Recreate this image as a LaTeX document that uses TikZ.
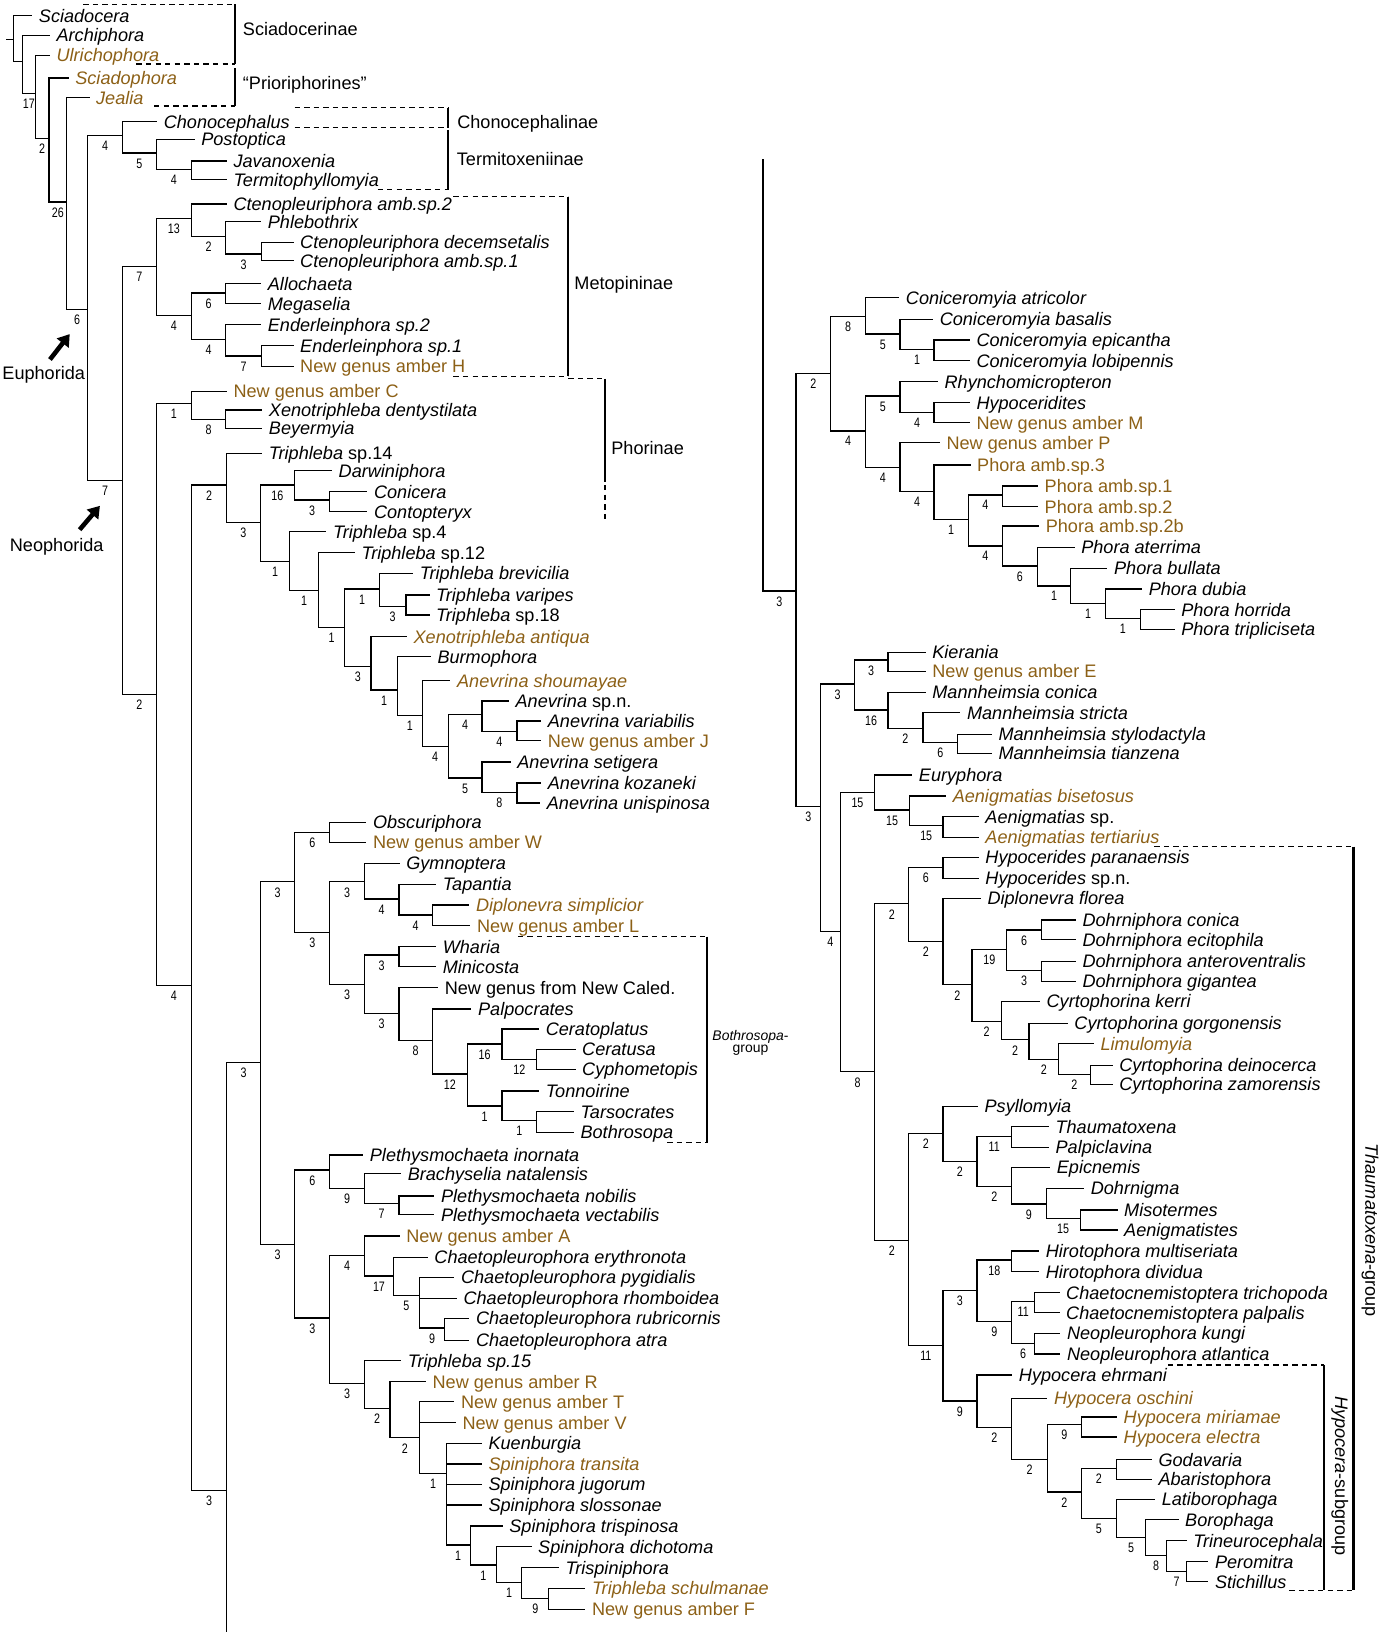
\documentclass[tikz,border=0pt]{standalone}
\usepackage{fontspec}
\setmainfont{Liberation Sans}
\newfontfamily\numfont[FakeStretch=0.78]{Liberation Sans}
\usetikzlibrary{arrows.meta}
\definecolor{amber}{RGB}{140,96,22}
\newcommand{\taxfont}{\fontsize{8.7}{10}\selectfont}

\begin{document}
\begin{tikzpicture}[x=0.5pt,y=-0.5pt]
    \tikzstyle{leaf} = [anchor=west, inner xsep=3pt, inner ysep=0pt, text height=6.2pt, text depth=0pt, font=\taxfont\itshape]
    \tikzstyle{amb} = [leaf, text=amber]
    \tikzstyle{ambup} = [leaf, text=amber, font=\taxfont]
    \tikzstyle{plain} = [leaf, font=\taxfont]
    \tikzstyle{clade} = [anchor=west, inner sep=0pt, text height=6.2pt, text depth=0pt, font=\taxfont]
    \tikzstyle{br} = [line width=0.6pt]
    \tikzstyle{bs} = [pos=0.75, anchor=north, inner sep=0pt, yshift=-2.4pt, font=\numfont\fontsize{6.6}{7}\selectfont]
    \tikzstyle{bar} = [line width=1.1pt]
    \tikzstyle{guide} = [line width=0.6pt, dash pattern=on 2.6pt off 2pt]
    \tikzstyle{pointer} = [line width=2.2pt, -{Triangle[length=5.5pt,width=7pt]}]

    \useasboundingbox (0,0) rectangle (1330,1568);

    % left tree: taxa
    \node[leaf] (sciad) at (31,15) {Sciadocera};
    \node[leaf] (archi) at (48,34) {Archiphora};
    \node[amb] (ulric) at (48,53) {Ulrichophora};
    \node[amb] (sciadoph) at (66,75) {Sciadophora};
    \node[amb] (jeal) at (86,94) {Jealia};
    \node[leaf] (chono) at (151,117) {Chonocephalus};
    \node[leaf] (posto) at (187,134) {Postoptica};
    \node[leaf] (javan) at (218,154.6) {Javanoxenia};
    \node[leaf] (termi) at (218,172.8) {Termitophyllomyia};
    \node[leaf] (cten2) at (218,196) {Ctenopleuriphora amb.sp.2};
    \node[leaf] (phleb) at (251,213) {Phlebothrix};
    \node[leaf] (ctdec) at (282,233) {Ctenopleuriphora decemsetalis};
    \node[leaf] (cten1) at (282,250.6) {Ctenopleuriphora amb.sp.1};
    \node[leaf] (alloc) at (251,272.6) {Allochaeta};
    \node[leaf] (megas) at (251,291.8) {Megaselia};
    \node[leaf] (ender2) at (251,312) {Enderleinphora sp.2};
    \node[leaf] (ender1) at (282,332) {Enderleinphora sp.1};
    \node[ambup] (ambH) at (282,352) {New genus amber H};
    \node[ambup] (ambC) at (218,376) {New genus amber C};
    \node[leaf] (xenod) at (252,394) {Xenotriphleba dentystilata};
    \node[leaf] (beyer) at (252,411.6) {Beyermyia};
    \node[leaf] (tri14) at (252,435.6) {Triphleba \textup{sp.14}};
    \node[leaf] (darwi) at (319,452.2) {Darwiniphora};
    \node[leaf] (conic) at (353,472.4) {Conicera};
    \node[leaf] (conto) at (353,491.6) {Contopteryx};
    \node[leaf] (tri4) at (313.6,510.8) {Triphleba \textup{sp.4}};
    \node[leaf] (tri12) at (341,531) {Triphleba \textup{sp.12}};
    \node[leaf] (trib) at (397,550.8) {Triphleba brevicilia};
    \node[leaf] (triv) at (412.7,571.6) {Triphleba varipes};
    \node[leaf] (tri18) at (412.7,590.8) {Triphleba \textup{sp.18}};
    \node[amb] (xenoa) at (391,611.6) {Xenotriphleba antiqua};
    \node[leaf] (burmo) at (414,630.8) {Burmophora};
    \node[amb] (anesh) at (432.8,654) {Anevrina shoumayae};
    \node[leaf] (anesp) at (489,673.4) {Anevrina \textup{sp.n.}};
    \node[leaf] (anev) at (520,692.6) {Anevrina variabilis};
    \node[ambup] (ambJ) at (520,711.8) {New genus amber J};
    \node[leaf] (anese) at (490.7,732.2) {Anevrina setigera};
    \node[leaf] (anek) at (520,752.4) {Anevrina kozaneki};
    \node[leaf] (aneu) at (519,771.6) {Anevrina unispinosa};
    \node[leaf] (obscu) at (352,790.2) {Obscuriphora};
    \node[ambup] (ambW) at (352,809.4) {New genus amber W};
    \node[leaf] (gymno) at (384,829.6) {Gymnoptera};
    \node[leaf] (tapan) at (419,849.8) {Tapantia};
    \node[amb] (diplo) at (451,869.6) {Diplonevra simplicior};
    \node[ambup] (ambL) at (452,889.4) {New genus amber L};
    \node[leaf] (whari) at (419,909.6) {Wharia};
    \node[leaf] (minic) at (419,928.8) {Minicosta};
    \node[plain] (newcal) at (421,949) {New genus from New Caled.};
    \node[leaf] (palpo) at (453,969.4) {Palpocrates};
    \node[leaf] (cerat) at (518,988.6) {Ceratoplatus};
    \node[leaf] (ceratu) at (553,1008.2) {Ceratusa};
    \node[leaf] (cypho) at (553,1027.4) {Cyphometopis};
    \node[leaf] (tonno) at (518,1048.2) {Tonnoirine};
    \node[leaf] (tarso) at (551.4,1068) {Tarsocrates};
    \node[leaf] (bothr) at (551.4,1087.8) {Bothrosopa};
    \node[leaf] (pleti) at (349,1109.6) {Plethysmochaeta inornata};
    \node[leaf] (brach) at (385.4,1127.8) {Brachyselia natalensis};
    \node[leaf] (pletn) at (417.4,1149) {Plethysmochaeta nobilis};
    \node[leaf] (pletv) at (417.4,1167) {Plethysmochaeta vectabilis};
    \node[ambup] (ambA) at (384,1187.4) {New genus amber A};
    \node[leaf] (chery) at (411,1208.2) {Chaetopleurophora erythronota};
    \node[leaf] (chpyg) at (436.6,1227.4) {Chaetopleurophora pygidialis};
    \node[leaf] (chrho) at (439,1247.6) {Chaetopleurophora rhomboidea};
    \node[leaf] (chrub) at (451,1266.8) {Chaetopleurophora rubricornis};
    \node[leaf] (chatr) at (451,1287.6) {Chaetopleurophora atra};
    \node[leaf] (tri15) at (385.4,1307.4) {Triphleba sp.15};
    \node[ambup] (ambR) at (409.3,1327.6) {New genus amber R};
    \node[ambup] (ambT) at (436.6,1346.8) {New genus amber T};
    \node[ambup] (ambV) at (438,1367) {New genus amber V};
    \node[leaf] (kuenb) at (463,1386.8) {Kuenburgia};
    \node[amb] (sptra) at (463,1406.6) {Spiniphora transita};
    \node[leaf] (spjug) at (463,1426.2) {Spiniphora jugorum};
    \node[leaf] (spslo) at (463,1446) {Spiniphora slossonae};
    \node[leaf] (sptri) at (483,1466.2) {Spiniphora trispinosa};
    \node[leaf] (spdic) at (510.7,1486) {Spiniphora dichotoma};
    \node[leaf] (trisp) at (537,1506.2) {Trispiniphora};
    \node[amb] (trisch) at (562.4,1526) {Triphleba schulmanae};
    \node[ambup] (ambF) at (562.4,1546.2) {New genus amber F};

    % left tree: branch points
    \coordinate (base) at (6,38);
    \coordinate (root) at (13,38);
    \coordinate (n17) at (21.5,59);
    \coordinate (n2a) at (34,90);
    \coordinate (n26) at (47,133);
    \coordinate (n6a) at (64,194);
    \coordinate (euph) at (84,297);
    \coordinate (cho4) at (118,130.5);
    \coordinate (cho5) at (150,147);
    \coordinate (jav4) at (184,163);
    \coordinate (neo) at (118,462);
    \coordinate (met7) at (150,256);
    \coordinate (m13) at (184,209.6);
    \coordinate (m2) at (217,227);
    \coordinate (m3) at (251,244);
    \coordinate (m4) at (184,303);
    \coordinate (m6) at (217,281.6);
    \coordinate (m4e) at (217,326);
    \coordinate (m7) at (251,342);
    \coordinate (nb2) at (150,667);
    \coordinate (ph1) at (184,387.6);
    \coordinate (x8) at (217,403);
    \coordinate (b4) at (184,947);
    \coordinate (t2) at (217.7,466);
    \coordinate (t3) at (250,502);
    \coordinate (t16) at (283,466);
    \coordinate (con3) at (316.7,480.4);
    \coordinate (t1a) at (278.5,539.6);
    \coordinate (t1b) at (306,567.5);
    \coordinate (t1c) at (331,602.6);
    \coordinate (t1d) at (364.6,566);
    \coordinate (t3v) at (390,582.7);
    \coordinate (t3e) at (356.5,640.4);
    \coordinate (t1f) at (381.8,663);
    \coordinate (t1g) at (405.7,687.5);
    \coordinate (a4h) at (430.6,717);
    \coordinate (a4i) at (463,686.8);
    \coordinate (a4k) at (496.7,702.6);
    \coordinate (a5j) at (463,747.6);
    \coordinate (a8k) at (496.7,761.4);
    \coordinate (b3) at (217.7,1432);
    \coordinate (cutL) at (217.7,1568);
    \coordinate (mid3) at (250.2,1020.6);
    \coordinate (o3) at (283.3,847.2);
    \coordinate (o6) at (316.7,799.8);
    \coordinate (g3) at (316.7,895.8);
    \coordinate (g3a) at (350.2,847.2);
    \coordinate (tap4) at (383.3,863.8);
    \coordinate (dip4) at (415.3,879.2);
    \coordinate (w3) at (350.2,945.8);
    \coordinate (wm3) at (383.3,917.6);
    \coordinate (nc3) at (383.3,973.6);
    \coordinate (p8) at (415.3,999.8);
    \coordinate (p12) at (449,1031.8);
    \coordinate (c16) at (482.3,1003);
    \coordinate (c12) at (515.8,1017.8);
    \coordinate (to1) at (482.3,1062.6);
    \coordinate (ta1) at (515.8,1076.6);
    \coordinate (low3) at (283.3,1195.4);
    \coordinate (pl6) at (316.7,1124);
    \coordinate (br9) at (350.2,1141.6);
    \coordinate (pl7) at (383.3,1156);
    \coordinate (ch3) at (316.7,1266.2);
    \coordinate (a4) at (350.2,1206.6);
    \coordinate (ch17) at (378,1226);
    \coordinate (ch5) at (402.9,1245);
    \coordinate (ch9) at (427.3,1275.8);
    \coordinate (s3) at (350.2,1329.2);
    \coordinate (r2) at (374.6,1353);
    \coordinate (tv2) at (403.3,1381.4);
    \coordinate (sp1) at (428.7,1415.6);
    \coordinate (sp1b) at (451.7,1484.4);
    \coordinate (sp1c) at (477,1503.6);
    \coordinate (sp1d) at (501.4,1520.6);
    \coordinate (sp9) at (527.3,1535.6);

    % left tree: branches
    \draw[br] (base) -- (root);
    \draw[br] (root) |- (sciad);
    \draw[br] (root) |- (n17);
    \draw[br] (n17) |- (archi);
    \draw[br] (n17) |- (n2a) node[bs] {17};
    \draw[br] (n2a) |- (ulric);
    \draw[br] (n2a) |- (n26) node[bs] {2};
    \draw[br] (n26) |- (sciadoph);
    \draw[br] (n26) |- (n6a) node[bs] {26};
    \draw[br] (n6a) |- (jeal);
    \draw[br] (n6a) |- (euph) node[bs] {6};
    \draw[br] (euph) |- (cho4) node[bs] {4};
    \draw[br] (euph) |- (neo) node[bs] {7};
    \draw[br] (cho4) |- (chono);
    \draw[br] (cho4) |- (cho5) node[bs] {5};
    \draw[br] (cho5) |- (posto);
    \draw[br] (cho5) |- (jav4) node[bs] {4};
    \draw[br] (jav4) |- (javan);
    \draw[br] (jav4) |- (termi);
    \draw[br] (neo) |- (met7) node[bs] {7};
    \draw[br] (neo) |- (nb2) node[bs] {2};
    \draw[br] (met7) |- (m13) node[bs] {13};
    \draw[br] (met7) |- (m4) node[bs] {4};
    \draw[br] (m13) |- (cten2);
    \draw[br] (m13) |- (m2) node[bs] {2};
    \draw[br] (m2) |- (phleb);
    \draw[br] (m2) |- (m3) node[bs] {3};
    \draw[br] (m3) |- (ctdec);
    \draw[br] (m3) |- (cten1);
    \draw[br] (m4) |- (m6) node[bs] {6};
    \draw[br] (m4) |- (m4e) node[bs] {4};
    \draw[br] (m6) |- (alloc);
    \draw[br] (m6) |- (megas);
    \draw[br] (m4e) |- (ender2);
    \draw[br] (m4e) |- (m7) node[bs] {7};
    \draw[br] (m7) |- (ender1);
    \draw[br] (m7) |- (ambH);
    \draw[br] (nb2) |- (ph1) node[bs] {1};
    \draw[br] (nb2) |- (b4) node[bs] {4};
    \draw[br] (ph1) |- (ambC);
    \draw[br] (ph1) |- (x8) node[bs] {8};
    \draw[br] (x8) |- (xenod);
    \draw[br] (x8) |- (beyer);
    \draw[br] (b4) |- (t2) node[bs] {2};
    \draw[br] (b4) |- (b3) node[bs] {3};
    \draw[br] (t2) |- (tri14);
    \draw[br] (t2) |- (t3) node[bs] {3};
    \draw[br] (t3) |- (t16) node[bs] {16};
    \draw[br] (t3) |- (t1a) node[bs] {1};
    \draw[br] (t16) |- (darwi);
    \draw[br] (t16) |- (con3) node[bs] {3};
    \draw[br] (con3) |- (conic);
    \draw[br] (con3) |- (conto);
    \draw[br] (t1a) |- (tri4);
    \draw[br] (t1a) |- (t1b) node[bs] {1};
    \draw[br] (t1b) |- (tri12);
    \draw[br] (t1b) |- (t1c) node[bs] {1};
    \draw[br] (t1c) |- (t1d) node[bs] {1};
    \draw[br] (t1c) |- (t3e) node[bs] {3};
    \draw[br] (t1d) |- (trib);
    \draw[br] (t1d) |- (t3v) node[bs] {3};
    \draw[br] (t3v) |- (triv);
    \draw[br] (t3v) |- (tri18);
    \draw[br] (t3e) |- (xenoa);
    \draw[br] (t3e) |- (t1f) node[bs] {1};
    \draw[br] (t1f) |- (burmo);
    \draw[br] (t1f) |- (t1g) node[bs] {1};
    \draw[br] (t1g) |- (anesh);
    \draw[br] (t1g) |- (a4h) node[bs] {4};
    \draw[br] (a4h) |- (a4i) node[bs] {4};
    \draw[br] (a4h) |- (a5j) node[bs] {5};
    \draw[br] (a4i) |- (anesp);
    \draw[br] (a4i) |- (a4k) node[bs] {4};
    \draw[br] (a4k) |- (anev);
    \draw[br] (a4k) |- (ambJ);
    \draw[br] (a5j) |- (anese);
    \draw[br] (a5j) |- (a8k) node[bs] {8};
    \draw[br] (a8k) |- (anek);
    \draw[br] (a8k) |- (aneu);
    \draw[br] (b3) -- (cutL);
    \draw[br] (b3) |- (mid3) node[bs] {3};
    \draw[br] (mid3) |- (o3) node[bs] {3};
    \draw[br] (mid3) |- (low3) node[bs] {3};
    \draw[br] (o3) |- (o6) node[bs] {6};
    \draw[br] (o3) |- (g3) node[bs] {3};
    \draw[br] (o6) |- (obscu);
    \draw[br] (o6) |- (ambW);
    \draw[br] (g3) |- (g3a) node[bs] {3};
    \draw[br] (g3) |- (w3) node[bs] {3};
    \draw[br] (g3a) |- (gymno);
    \draw[br] (g3a) |- (tap4) node[bs] {4};
    \draw[br] (tap4) |- (tapan);
    \draw[br] (tap4) |- (dip4) node[bs] {4};
    \draw[br] (dip4) |- (diplo);
    \draw[br] (dip4) |- (ambL);
    \draw[br] (w3) |- (wm3) node[bs] {3};
    \draw[br] (w3) |- (nc3) node[bs] {3};
    \draw[br] (wm3) |- (whari);
    \draw[br] (wm3) |- (minic);
    \draw[br] (nc3) |- (newcal);
    \draw[br] (nc3) |- (p8) node[bs] {8};
    \draw[br] (p8) |- (palpo);
    \draw[br] (p8) |- (p12) node[bs] {12};
    \draw[br] (p12) |- (c16) node[bs] {16};
    \draw[br] (p12) |- (to1) node[bs] {1};
    \draw[br] (c16) |- (cerat);
    \draw[br] (c16) |- (c12) node[bs] {12};
    \draw[br] (c12) |- (ceratu);
    \draw[br] (c12) |- (cypho);
    \draw[br] (to1) |- (tonno);
    \draw[br] (to1) |- (ta1) node[bs] {1};
    \draw[br] (ta1) |- (tarso);
    \draw[br] (ta1) |- (bothr);
    \draw[br] (low3) |- (pl6) node[bs] {6};
    \draw[br] (low3) |- (ch3) node[bs] {3};
    \draw[br] (pl6) |- (pleti);
    \draw[br] (pl6) |- (br9) node[bs] {9};
    \draw[br] (br9) |- (brach);
    \draw[br] (br9) |- (pl7) node[bs] {7};
    \draw[br] (pl7) |- (pletn);
    \draw[br] (pl7) |- (pletv);
    \draw[br] (ch3) |- (a4) node[bs] {4};
    \draw[br] (ch3) |- (s3) node[bs] {3};
    \draw[br] (a4) |- (ambA);
    \draw[br] (a4) |- (ch17) node[bs] {17};
    \draw[br] (ch17) |- (chery);
    \draw[br] (ch17) |- (ch5) node[bs] {5};
    \draw[br] (ch5) |- (chpyg);
    \draw[br] (ch5) |- (chrho);
    \draw[br] (ch5) |- (ch9) node[bs] {9};
    \draw[br] (ch9) |- (chrub);
    \draw[br] (ch9) |- (chatr);
    \draw[br] (s3) |- (tri15);
    \draw[br] (s3) |- (r2) node[bs] {2};
    \draw[br] (r2) |- (ambR);
    \draw[br] (r2) |- (tv2) node[bs] {2};
    \draw[br] (tv2) |- (ambT);
    \draw[br] (tv2) |- (ambV);
    \draw[br] (tv2) |- (sp1) node[bs] {1};
    \draw[br] (sp1) |- (kuenb);
    \draw[br] (sp1) |- (sptra);
    \draw[br] (sp1) |- (spjug);
    \draw[br] (sp1) |- (spslo);
    \draw[br] (sp1) |- (sp1b) node[bs] {1};
    \draw[br] (sp1b) |- (sptri);
    \draw[br] (sp1b) |- (sp1c) node[bs] {1};
    \draw[br] (sp1c) |- (spdic);
    \draw[br] (sp1c) |- (sp1d) node[bs] {1};
    \draw[br] (sp1d) |- (trisp);
    \draw[br] (sp1d) |- (sp9) node[bs] {9};
    \draw[br] (sp9) |- (trisch);
    \draw[br] (sp9) |- (ambF);

    % right tree: taxa
    \node[leaf] (catri) at (864,286) {Coniceromyia atricolor};
    \node[leaf] (cbasa) at (896.5,306.9) {Coniceromyia basalis};
    \node[leaf] (cepic) at (931.8,326.7) {Coniceromyia epicantha};
    \node[leaf] (clobi) at (931.8,346.5) {Coniceromyia lobipennis};
    \node[leaf] (rhync) at (901.2,366.7) {Rhynchomicropteron};
    \node[leaf] (hypcd) at (931.8,386.9) {Hypoceridites};
    \node[ambup] (ambM) at (931.8,406.1) {New genus amber M};
    \node[ambup] (ambP) at (903,425.3) {New genus amber P};
    \node[ambup] (phor3) at (932.5,446.7) {Phora amb.sp.3};
    \node[ambup] (phor1) at (997.3,466.9) {Phora amb.sp.1};
    \node[ambup] (phor2) at (997.3,486.7) {Phora amb.sp.2};
    \node[ambup] (phor2b) at (998.4,505.3) {Phora amb.sp.2b};
    \node[leaf] (phate) at (1032.5,525.7) {Phora aterrima};
    \node[leaf] (phbul) at (1064,545.9) {Phora bullata};
    \node[leaf] (phdub) at (1097.3,566) {Phora dubia};
    \node[leaf] (phhor) at (1128.6,585.9) {Phora horrida};
    \node[leaf] (phtri) at (1128.6,604.5) {Phora tripliciseta};
    \node[leaf] (kiera) at (889.4,626.8) {Kierania};
    \node[ambup] (ambE) at (889.4,644.8) {New genus amber E};
    \node[leaf] (manco) at (889.4,665.2) {Mannheimsia conica};
    \node[leaf] (manst) at (922.7,684.8) {Mannheimsia stricta};
    \node[leaf] (mansty) at (953,705.6) {Mannheimsia stylodactyla};
    \node[leaf] (manti) at (953,723.8) {Mannheimsia tianzena};
    \node[leaf] (eury) at (876.5,744.6) {Euryphora};
    \node[amb] (aenbi) at (909,764.8) {Aenigmatias bisetosus};
    \node[leaf] (aensp) at (940.4,784.6) {Aenigmatias \textup{sp.}};
    \node[amb] (aente) at (940.4,804.4) {Aenigmatias tertiarius};
    \node[leaf] (hyppa) at (940.4,823.6) {Hypocerides paranaensis};
    \node[leaf] (hypsp) at (940.4,843.8) {Hypocerides \textup{sp.n.}};
    \node[leaf] (dipfl) at (942.4,863) {Diplonevra florea};
    \node[leaf] (dohco) at (1033.7,883.8) {Dohrniphora conica};
    \node[leaf] (dohec) at (1033.7,903) {Dohrniphora ecitophila};
    \node[leaf] (dohan) at (1033.7,923.8) {Dohrniphora anteroventralis};
    \node[leaf] (dohgi) at (1033.7,943) {Dohrniphora gigantea};
    \node[leaf] (cyrke) at (999.2,962.2) {Cyrtophorina kerri};
    \node[leaf] (cyrgo) at (1025.9,983) {Cyrtophorina gorgonensis};
    \node[amb] (limul) at (1051,1002.8) {Limulomyia};
    \node[leaf] (cyrde) at (1069,1023.4) {Cyrtophorina deinocerca};
    \node[leaf] (cyrza) at (1069,1041.6) {Cyrtophorina zamorensis};
    \node[leaf] (psyll) at (939.6,1062.8) {Psyllomyia};
    \node[leaf] (thaum) at (1007.8,1082.6) {Thaumatoxena};
    \node[leaf] (palpi) at (1007.8,1102.4) {Palpiclavina};
    \node[leaf] (epicn) at (1009,1121.6) {Epicnemis};
    \node[leaf] (dohrn) at (1041.6,1141.8) {Dohrnigma};
    \node[leaf] (misot) at (1073.7,1162.6) {Misotermes};
    \node[leaf] (aenig) at (1073.7,1181.8) {Aenigmatistes};
    \node[leaf] (hirmu) at (998.4,1202) {Hirotophora multiseriata};
    \node[leaf] (hirdi) at (998.4,1221.8) {Hirotophora dividua};
    \node[leaf] (chetr) at (1018,1242) {Chaetocnemistoptera trichopoda};
    \node[leaf] (chepa) at (1018,1261.2) {Chaetocnemistoptera palpalis};
    \node[leaf] (neoku) at (1018.8,1281) {Neopleurophora kungi};
    \node[leaf] (neoat) at (1018.8,1300.8) {Neopleurophora atlantica};
    \node[leaf] (hypeh) at (972.6,1321) {Hypocera ehrmani};
    \node[amb] (hypos) at (1006.3,1343.4) {Hypocera oschini};
    \node[amb] (hypmi) at (1073.2,1361.4) {Hypocera miriamae};
    \node[amb] (hypel) at (1073.2,1380.6) {Hypocera electra};
    \node[leaf] (godav) at (1106.7,1402.4) {Godavaria};
    \node[leaf] (abari) at (1106.7,1421.2) {Abaristophora};
    \node[leaf] (latib) at (1109.8,1440.4) {Latiborophaga};
    \node[leaf] (borop) at (1132.3,1460) {Borophaga};
    \node[leaf] (trine) at (1140.1,1480.4) {Trineurocephala};
    \node[leaf] (perom) at (1161,1500.6) {Peromitra};
    \node[leaf] (stich) at (1161,1519.8) {Stichillus};

    % right tree: branch points
    \coordinate (rtop) at (733,153);
    \coordinate (r3) at (764.8,567.7);
    \coordinate (c2) at (798.2,358.7);
    \coordinate (c8) at (831.5,304.3);
    \coordinate (c5) at (864.8,321);
    \coordinate (c1) at (897.4,335.7);
    \coordinate (c4) at (831.5,414);
    \coordinate (rh5) at (864.8,380.5);
    \coordinate (hy4) at (897.4,396.5);
    \coordinate (p4) at (864.8,449);
    \coordinate (ph4) at (897.4,472.3);
    \coordinate (ph1r) at (930.4,498.9);
    \coordinate (ph4a) at (962.9,475.5);
    \coordinate (ph4b) at (962.9,524.5);
    \coordinate (ph6) at (996.6,543.7);
    \coordinate (ph1s) at (1028.7,562.9);
    \coordinate (ph1t) at (1062,579.5);
    \coordinate (ph1u) at (1095.4,593.9);
    \coordinate (k3) at (788.4,775);
    \coordinate (k3a) at (820.9,657.2);
    \coordinate (k3b) at (853.1,634.2);
    \coordinate (m16) at (853.1,682.2);
    \coordinate (m2r) at (886.8,699.8);
    \coordinate (m6r) at (920.1,713.6);
    \coordinate (e4) at (807.2,895);
    \coordinate (eu15) at (840.5,761.2);
    \coordinate (ae15) at (873.8,778.2);
    \coordinate (ae15b) at (906,793.2);
    \coordinate (th8) at (840.5,1029.8);
    \coordinate (d2) at (873,868.4);
    \coordinate (hp6) at (906,833.6);
    \coordinate (df2) at (906,904.6);
    \coordinate (dh2) at (933.8,946.2);
    \coordinate (d19) at (967.2,912);
    \coordinate (d6) at (1000.5,893.4);
    \coordinate (d3) at (1000.5,932.4);
    \coordinate (cy2) at (962,981.4);
    \coordinate (cg2) at (988.7,999);
    \coordinate (cl2) at (1017,1018);
    \coordinate (cd2) at (1047.6,1032);
    \coordinate (ps2) at (873,1192);
    \coordinate (py2) at (906,1089);
    \coordinate (tx2) at (938.6,1115.6);
    \coordinate (t11) at (971.9,1091.6);
    \coordinate (ep2) at (971.9,1139.6);
    \coordinate (dn9) at (1005.2,1156.8);
    \coordinate (mi15) at (1037.8,1170.6);
    \coordinate (h11) at (906,1292.8);
    \coordinate (h3) at (938.6,1240);
    \coordinate (h18) at (971.9,1210.6);
    \coordinate (h9) at (971.9,1269.8);
    \coordinate (ce11) at (994.2,1250.6);
    \coordinate (ne6) at (994.2,1290.6);
    \coordinate (hy9) at (938.6,1346);
    \coordinate (os2) at (971.9,1371.6);
    \coordinate (mr2) at (1006.4,1402);
    \coordinate (mi9) at (1039,1368.4);
    \coordinate (gd2) at (1039,1433.4);
    \coordinate (ab2) at (1072.5,1411);
    \coordinate (la5) at (1072.5,1459);
    \coordinate (bo5) at (1100.9,1477.2);
    \coordinate (tr8) at (1120.6,1494.2);
    \coordinate (pe7) at (1140.2,1510.2);

    % right tree: branches
    \draw[br] (rtop) |- (r3) node[bs] {3};
    \draw[br] (r3) |- (c2) node[bs] {2};
    \draw[br] (r3) |- (k3) node[bs] {3};
    \draw[br] (c2) |- (c8) node[bs] {8};
    \draw[br] (c2) |- (c4) node[bs] {4};
    \draw[br] (c8) |- (catri);
    \draw[br] (c8) |- (c5) node[bs] {5};
    \draw[br] (c5) |- (cbasa);
    \draw[br] (c5) |- (c1) node[bs] {1};
    \draw[br] (c1) |- (cepic);
    \draw[br] (c1) |- (clobi);
    \draw[br] (c4) |- (rh5) node[bs] {5};
    \draw[br] (c4) |- (p4) node[bs] {4};
    \draw[br] (rh5) |- (rhync);
    \draw[br] (rh5) |- (hy4) node[bs] {4};
    \draw[br] (hy4) |- (hypcd);
    \draw[br] (hy4) |- (ambM);
    \draw[br] (p4) |- (ambP);
    \draw[br] (p4) |- (ph4) node[bs] {4};
    \draw[br] (ph4) |- (phor3);
    \draw[br] (ph4) |- (ph1r) node[bs] {1};
    \draw[br] (ph1r) |- (ph4a) node[bs] {4};
    \draw[br] (ph1r) |- (ph4b) node[bs] {4};
    \draw[br] (ph4a) |- (phor1);
    \draw[br] (ph4a) |- (phor2);
    \draw[br] (ph4b) |- (phor2b);
    \draw[br] (ph4b) |- (ph6) node[bs] {6};
    \draw[br] (ph6) |- (phate);
    \draw[br] (ph6) |- (ph1s) node[bs] {1};
    \draw[br] (ph1s) |- (phbul);
    \draw[br] (ph1s) |- (ph1t) node[bs] {1};
    \draw[br] (ph1t) |- (phdub);
    \draw[br] (ph1t) |- (ph1u) node[bs] {1};
    \draw[br] (ph1u) |- (phhor);
    \draw[br] (ph1u) |- (phtri);
    \draw[br] (k3) |- (k3a) node[bs] {3};
    \draw[br] (k3) |- (e4) node[bs] {4};
    \draw[br] (k3a) |- (k3b) node[bs] {3};
    \draw[br] (k3a) |- (m16) node[bs] {16};
    \draw[br] (k3b) |- (kiera);
    \draw[br] (k3b) |- (ambE);
    \draw[br] (m16) |- (manco);
    \draw[br] (m16) |- (m2r) node[bs] {2};
    \draw[br] (m2r) |- (manst);
    \draw[br] (m2r) |- (m6r) node[bs] {6};
    \draw[br] (m6r) |- (mansty);
    \draw[br] (m6r) |- (manti);
    \draw[br] (e4) |- (eu15) node[bs] {15};
    \draw[br] (e4) |- (th8) node[bs] {8};
    \draw[br] (eu15) |- (eury);
    \draw[br] (eu15) |- (ae15) node[bs] {15};
    \draw[br] (ae15) |- (aenbi);
    \draw[br] (ae15) |- (ae15b) node[bs] {15};
    \draw[br] (ae15b) |- (aensp);
    \draw[br] (ae15b) |- (aente);
    \draw[br] (th8) |- (d2) node[bs] {2};
    \draw[br] (th8) |- (ps2) node[bs] {2};
    \draw[br] (d2) |- (hp6) node[bs] {6};
    \draw[br] (d2) |- (df2) node[bs] {2};
    \draw[br] (hp6) |- (hyppa);
    \draw[br] (hp6) |- (hypsp);
    \draw[br] (df2) |- (dipfl);
    \draw[br] (df2) |- (dh2) node[bs] {2};
    \draw[br] (dh2) |- (d19) node[bs] {19};
    \draw[br] (dh2) |- (cy2) node[bs] {2};
    \draw[br] (d19) |- (d6) node[bs] {6};
    \draw[br] (d19) |- (d3) node[bs] {3};
    \draw[br] (d6) |- (dohco);
    \draw[br] (d6) |- (dohec);
    \draw[br] (d3) |- (dohan);
    \draw[br] (d3) |- (dohgi);
    \draw[br] (cy2) |- (cyrke);
    \draw[br] (cy2) |- (cg2) node[bs] {2};
    \draw[br] (cg2) |- (cyrgo);
    \draw[br] (cg2) |- (cl2) node[bs] {2};
    \draw[br] (cl2) |- (limul);
    \draw[br] (cl2) |- (cd2) node[bs] {2};
    \draw[br] (cd2) |- (cyrde);
    \draw[br] (cd2) |- (cyrza);
    \draw[br] (ps2) |- (py2) node[bs] {2};
    \draw[br] (ps2) |- (h11) node[bs] {11};
    \draw[br] (py2) |- (psyll);
    \draw[br] (py2) |- (tx2) node[bs] {2};
    \draw[br] (tx2) |- (t11) node[bs] {11};
    \draw[br] (tx2) |- (ep2) node[bs] {2};
    \draw[br] (t11) |- (thaum);
    \draw[br] (t11) |- (palpi);
    \draw[br] (ep2) |- (epicn);
    \draw[br] (ep2) |- (dn9) node[bs] {9};
    \draw[br] (dn9) |- (dohrn);
    \draw[br] (dn9) |- (mi15) node[bs] {15};
    \draw[br] (mi15) |- (misot);
    \draw[br] (mi15) |- (aenig);
    \draw[br] (h11) |- (h3) node[bs] {3};
    \draw[br] (h11) |- (hy9) node[bs] {9};
    \draw[br] (h3) |- (h18) node[bs] {18};
    \draw[br] (h3) |- (h9) node[bs] {9};
    \draw[br] (h18) |- (hirmu);
    \draw[br] (h18) |- (hirdi);
    \draw[br] (h9) |- (ce11) node[bs] {11};
    \draw[br] (h9) |- (ne6) node[bs] {6};
    \draw[br] (ce11) |- (chetr);
    \draw[br] (ce11) |- (chepa);
    \draw[br] (ne6) |- (neoku);
    \draw[br] (ne6) |- (neoat);
    \draw[br] (hy9) |- (hypeh);
    \draw[br] (hy9) |- (os2) node[bs] {2};
    \draw[br] (os2) |- (hypos);
    \draw[br] (os2) |- (mr2) node[bs] {2};
    \draw[br] (mr2) |- (mi9) node[bs] {9};
    \draw[br] (mr2) |- (gd2) node[bs] {2};
    \draw[br] (mi9) |- (hypmi);
    \draw[br] (mi9) |- (hypel);
    \draw[br] (gd2) |- (ab2) node[bs] {2};
    \draw[br] (gd2) |- (la5) node[bs] {5};
    \draw[br] (ab2) |- (godav);
    \draw[br] (ab2) |- (abari);
    \draw[br] (la5) |- (latib);
    \draw[br] (la5) |- (bo5) node[bs] {5};
    \draw[br] (bo5) |- (borop);
    \draw[br] (bo5) |- (tr8) node[bs] {8};
    \draw[br] (tr8) |- (trine);
    \draw[br] (tr8) |- (pe7) node[bs] {7};
    \draw[br] (pe7) |- (perom);
    \draw[br] (pe7) |- (stich);

    % subfamily brackets
    \draw[guide] (80,4.2) -- (226,4.2);
    \draw[bar] (226,4.2) -- (226,61.4);
    \draw[guide] (131,61.4) -- (226,61.4);
    \node[clade] (sciadocerinae) at (233,28) {Sciadocerinae};
    \draw[bar] (226,65.6) -- (226,101.8);
    \draw[guide] (148,101.8) -- (226,101.8);
    \node[clade] (prioriph) at (233,80) {“Prioriphorines”};
    \draw[guide] (283,103.4) -- (430.5,103.4);
    \draw[bar] (430.5,103.4) -- (430.5,122.6);
    \draw[guide] (283,122.6) -- (430.5,122.6);
    \node[clade] (chonocephalinae) at (439,117) {Chonocephalinae};
    \draw[bar] (430.5,124.8) -- (430.5,182.4);
    \draw[guide] (362.7,182.4) -- (430.5,182.4);
    \node[clade] (termitoxeniinae) at (438.6,153) {Termitoxeniinae};
    \draw[guide] (435.6,188.8) -- (546,188.8);
    \draw[bar] (546,188.8) -- (546,361.6);
    \draw[guide] (435.6,361.6) -- (546,361.6);
    \node[clade] (metopininae) at (551.5,272) {Metopininae};
    \draw[guide] (546,364) -- (581.3,364);
    \draw[bar] (581.3,364) -- (581.3,463);
    \draw[bar, dash pattern=on 2.6pt off 2pt] (581.3,466) -- (581.3,501);
    \node[clade] (phorinae) at (587,430) {Phorinae};
    \draw[guide] (497.6,900) -- (679.4,900);
    \draw[bar] (679.4,900) -- (679.4,1097.8);
    \draw[guide] (641,1097.8) -- (679.4,1097.8);
    \node[align=center, inner sep=0pt, font=\fontsize{6.7}{5.5}\selectfont] (bothrgroup) at (721,1002) {\textit{Bothrosopa}-\\group};
    \draw[guide] (1109,813.4) -- (1300.5,813.4);
    \draw[bar, line width=1.4pt] (1300.5,813.4) -- (1300.5,1527.8);
    \draw[guide] (1238.7,1527.8) -- (1303,1527.8);
    \node[clade, anchor=center, rotate=-90] (thaumgroup) at (1318,1182) {\textit{Thaumatoxena}-group};
    \draw[guide] (1122,1311.4) -- (1272,1311.4);
    \draw[bar] (1272,1311.4) -- (1272,1527.8);
    \node[clade, anchor=center, rotate=-90] (hypsub) at (1289,1418) {\textit{Hypocera}-subgroup};

    % Euphorida and Neophorida
    \node[clade, anchor=center] (euphorida) at (42,358) {Euphorida};
    \coordinate (euphtip) at (67,321);
    \draw[pointer] (euphorida.north) ++(6,-6) -- (euphtip);
    \node[clade, anchor=center] (neophorida) at (54.5,523.5) {Neophorida};
    \coordinate (neotip) at (96,486);
    \draw[pointer] (neophorida.north) ++(22,-8) -- (neotip);

\end{tikzpicture}
\end{document}
